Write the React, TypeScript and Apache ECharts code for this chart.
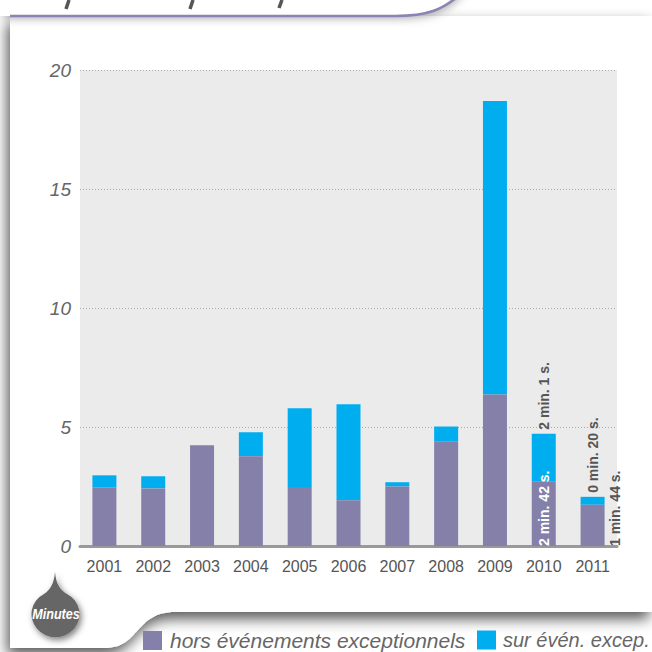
import React, { useEffect, useRef } from 'react';
import * as echarts from 'echarts';

const years = ['2001', '2002', '2003', '2004', '2005', '2006', '2007', '2008', '2009', '2010', '2011'];
const horsValues = [2.47, 2.42, 4.23, 3.77, 2.48, 1.92, 2.5, 4.4, 6.37, 2.7, 1.733];
const surValues = [0.5, 0.51, 0, 1.01, 3.31, 4.04, 0.18, 0.62, 12.33, 2.017, 0.333];
const horsLabels = ['', '', '', '', '', '', '', '', '', '2 min. 42 s.', '1 min. 44 s.'];
const surLabels = ['', '', '', '', '', '', '', '', '', '2 min. 1 s.', '0 min. 20 s.'];
const legendNames = ['hors événements exceptionnels', 'sur évén. excep.'];
const yMin = 0;
const yMax = 20;
const yStep = 5;

const PURPLE = '#8480AA';
const BLUE = '#00AEEF';
const FONT = 'Liberation Sans, Arial, sans-serif';

echarts.graphic.registerShape(
  'cardShape',
  echarts.graphic.extendPath('M10 16 L652 16 L652 612 L175 612 C135 612 140 648 105 648 L10 648 Z', {})
);
echarts.graphic.registerShape(
  'tabShape',
  echarts.graphic.extendPath('M0 -10 L460 -10 C447 6 432 16 395 16 L0 16 Z', {})
);
echarts.graphic.registerShape(
  'tabLine',
  echarts.graphic.extendPath('M10 16 L395 16 C430 16 443 8 456 -2', {})
);
echarts.graphic.registerShape(
  'dropShape',
  echarts.graphic.extendPath('M55 572 C56 584 60 590 67 594 A24 23 0 1 1 44 594 C50 590 54 584 55 572 Z', {})
);

function buildHorsData() {
  return horsValues.map((v, i) => {
    const txt = horsLabels[i];
    if (!txt) return v;
    const outside = i === horsValues.length - 1;
    return {
      value: v,
      label: outside
        ? {
            show: true,
            formatter: txt,
            position: ['142%', '100%'],
            rotate: 90,
            align: 'left',
            verticalAlign: 'middle',
            color: '#555',
            fontWeight: 'bold',
            fontSize: 14,
            fontFamily: FONT,
          }
        : {
            show: true,
            formatter: txt,
            position: 'insideBottom',
            distance: 0,
            rotate: 90,
            align: 'left',
            verticalAlign: 'middle',
            color: '#fff',
            fontWeight: 'bold',
            fontSize: 14,
            fontFamily: FONT,
          },
    };
  });
}

function buildSurData() {
  return surValues.map((v, i) => {
    const txt = surLabels[i];
    if (!txt) return v;
    return {
      value: v,
      label: {
        show: true,
        formatter: txt,
        position: 'top',
        distance: 4,
        rotate: 90,
        align: 'left',
        verticalAlign: 'middle',
        color: '#555',
        fontWeight: 'bold',
        fontSize: 14,
        fontFamily: FONT,
      },
    };
  });
}

export default function App() {
  const ref = useRef<HTMLDivElement>(null);
  useEffect(() => {
    if (!ref.current) return;
    const chart = echarts.init(ref.current, undefined, { renderer: 'svg' });
    chart.setOption({
      animation: false,
      backgroundColor: '#fff',
      grid: {
        left: 80,
        right: 35,
        top: 70,
        bottom: 106,
        show: true,
        backgroundColor: '#EBEBEB',
        borderWidth: 0,
      },
      legend: [
        {
          data: [legendNames[0]],
          left: 138,
          top: 625,
          icon: 'rect',
          itemWidth: 19,
          itemHeight: 19,
          textStyle: {
            fontSize: 21,
            fontStyle: 'italic',
            color: '#666',
            fontFamily: FONT,
            padding: [0, 0, 0, 3],
          },
        },
        {
          data: [legendNames[1]],
          left: 472,
          top: 625,
          icon: 'rect',
          itemWidth: 19,
          itemHeight: 19,
          textStyle: {
            fontSize: 20,
            fontStyle: 'italic',
            color: '#666',
            fontFamily: FONT,
            padding: [0, 0, 0, 2],
          },
        },
      ],
      xAxis: {
        type: 'category',
        data: years,
        axisTick: { show: false },
        axisLine: { lineStyle: { color: '#999', width: 3 } },
        axisLabel: { fontSize: 16, color: '#555', margin: 12, fontFamily: FONT },
      },
      yAxis: {
        type: 'value',
        min: yMin,
        max: yMax,
        interval: yStep,
        axisLine: { show: false },
        axisTick: { show: false },
        splitLine: { lineStyle: { color: '#aaa', type: [1, 2], width: 1 } },
        axisLabel: {
          fontSize: 19,
          fontStyle: 'italic',
          color: '#666',
          margin: 9,
          fontFamily: FONT,
          padding: [0, 0, 10, 0],
        },
      },
      series: [
        {
          name: legendNames[0],
          type: 'bar',
          stack: 'total',
          barWidth: 24,
          itemStyle: { color: PURPLE },
          data: buildHorsData(),
          z: 2,
        },
        {
          name: legendNames[1],
          type: 'bar',
          stack: 'total',
          barWidth: 24,
          itemStyle: { color: BLUE },
          data: buildSurData(),
          z: 1,
        },
      ],
      graphic: [
        {
          type: 'cardShape',
          z: -10,
          silent: true,
          style: {
            fill: '#fff',
            shadowBlur: 14,
            shadowColor: 'rgba(0,0,0,0.65)',
            shadowOffsetX: -3,
            shadowOffsetY: 7,
          },
        },
        {
          type: 'tabShape',
          z: -9,
          silent: true,
          style: {
            fill: '#fff',
            shadowBlur: 10,
            shadowColor: 'rgba(0,0,0,0.35)',
            shadowOffsetX: 4,
            shadowOffsetY: 2,
          },
        },
        {
          type: 'tabLine',
          z: -8,
          silent: true,
          style: { fill: 'none', stroke: '#8A84B5', lineWidth: 2.5 },
        },
        { type: 'line', z: -8, silent: true, shape: { x1: 69, y1: 0, x2: 66, y2: 9 }, style: { stroke: '#555', lineWidth: 3.5 } },
        { type: 'line', z: -8, silent: true, shape: { x1: 193, y1: 0, x2: 190, y2: 9 }, style: { stroke: '#555', lineWidth: 3.5 } },
        { type: 'line', z: -8, silent: true, shape: { x1: 282, y1: 0, x2: 279, y2: 8 }, style: { stroke: '#555', lineWidth: 3.5 } },
        {
          type: 'dropShape',
          z: 50,
          silent: true,
          style: {
            fill: '#666',
            shadowBlur: 6,
            shadowColor: 'rgba(0,0,0,0.5)',
            shadowOffsetX: 2,
            shadowOffsetY: 3,
          },
        },
        {
          type: 'text',
          z: 51,
          silent: true,
          x: 56,
          y: 614,
          scaleX: 0.84,
          style: {
            text: 'Minutes',
            fill: '#fff',
            font: 'italic bold 15px "Liberation Sans", Arial, sans-serif',
            align: 'center',
            verticalAlign: 'middle',
          },
        },
      ],
    });
    return () => chart.dispose();
  }, []);
  return <div ref={ref} style={{ position: 'absolute', left: 0, top: 0, width: 652, height: 652 }} />;
}
